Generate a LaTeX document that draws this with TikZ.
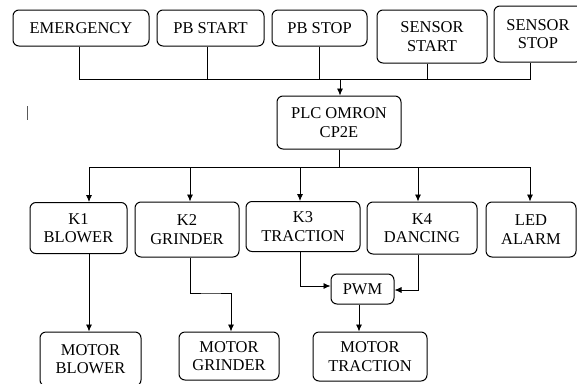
\documentclass[tikz,border=0pt]{standalone}
\usepackage{fontspec}
\setmainfont{Liberation Serif}
\usetikzlibrary{arrows.meta}

\begin{document}
\begin{tikzpicture}[x=1pt,y=-1pt,
  blk/.style={draw,rounded corners=6pt,line width=1pt,align=center,inner sep=0pt,
    font=\fontsize{16.5}{18.5}\selectfont},
  wire/.style={line width=0.8pt},
  arr/.style={wire,-{Latex[length=7pt,width=6pt]}}]
  \useasboundingbox (0,0) rectangle (577,383);
  % inputs
  \node[blk,minimum width=136pt,minimum height=36pt] (emerg) at (81,28) {EMERGENCY};
  \node[blk,minimum width=107pt,minimum height=36pt] (pbstart) at (210.5,28) {PB START};
  \node[blk,minimum width=95pt,minimum height=36pt] (pbstop) at (319.5,28) {PB STOP};
  \node[blk,minimum width=110pt,minimum height=53pt] (sstart) at (432,36.5) {SENSOR\\START};
  \node[blk,minimum width=88pt,minimum height=56pt] (sstop) at (538,34) {SENSOR\\STOP};
  % controller
  \node[blk,minimum width=124pt,minimum height=53pt] (plc) at (339,122.5) {PLC OMRON\\CP2E};
  % outputs
  \node[blk,minimum width=97pt,minimum height=51pt] (k1) at (78.5,228) {K1\\BLOWER};
  \node[blk,minimum width=104pt,minimum height=55pt] (k2) at (187,229.5) {K2\\GRINDER};
  \node[blk,minimum width=114pt,minimum height=50pt] (k3) at (303,226.5) {K3\\TRACTION};
  \node[blk,minimum width=110pt,minimum height=52pt] (k4) at (422,228) {K4\\DANCING};
  \node[blk,minimum width=90pt,minimum height=55pt] (led) at (531,229.5) {LED\\ALARM};
  \node[blk,minimum width=63pt,minimum height=30pt] (pwm) at (362.5,289) {PWM};
  % motors
  \node[blk,minimum width=101pt,minimum height=54pt] (mblower) at (90.5,359) {MOTOR\\BLOWER};
  \node[blk,minimum width=100pt,minimum height=48pt] (mgrinder) at (229,356) {MOTOR\\GRINDER};
  \node[blk,minimum width=114pt,minimum height=49pt] (mtraction) at (370,356.5) {MOTOR\\TRACTION};

  \coordinate (bus) at (340,79);
  \coordinate (dist) at (339,167);
  \coordinate (bend) at (211,293);

  % input bus
  \draw[wire] ([xshift=-2pt]emerg.south) |- ([xshift=-8pt]sstop.south |- bus) -- ([xshift=-8pt]sstop.south);
  \draw[wire] ([xshift=-3.5pt]pbstart.south) -- ([xshift=-3.5pt]pbstart.south |- bus);
  \draw[wire] (pbstop.south) -- (pbstop.south |- bus);
  \draw[wire] ([xshift=-5pt]sstart.south) -- ([xshift=-5pt]sstart.south |- bus);
  \draw[arr] (bus) -- (plc.north -| bus);

  % output distribution
  \draw[wire] (plc.south) -- (dist);
  \draw[arr] (dist) -| ([xshift=10.5pt]k1.north);
  \draw[arr] (dist) -| ([xshift=-1pt]led.north);
  \draw[arr] ([xshift=3pt]k2.north |- dist) -- ([xshift=3pt]k2.north);
  \draw[arr] ([xshift=-3pt]k3.north |- dist) -- ([xshift=-3pt]k3.north);
  \draw[arr] ([xshift=-4pt]k4.north |- dist) -- ([xshift=-4pt]k4.north);

  % motors
  \draw[arr] ([xshift=10.5pt]k1.south) -- ([xshift=10.5pt]k1.south |- mblower.north);
  \draw[arr] ([xshift=3pt]k2.south) |- (bend) -| ([xshift=2pt]mgrinder.north);
  \draw[arr] ([xshift=-3pt]k3.south) |- ([yshift=3pt]pwm.west);
  \draw[arr] ([xshift=-4pt]k4.south) |- ([yshift=-1pt]pwm.east);
  \draw[arr] ([xshift=-3.5pt]pwm.south) -- ([xshift=-3.5pt]pwm.south |- mtraction.north);

  % cursor mark
  \draw[gray!70!black,line width=0.8pt] (27,106) -- (27,120);
\end{tikzpicture}
\end{document}
